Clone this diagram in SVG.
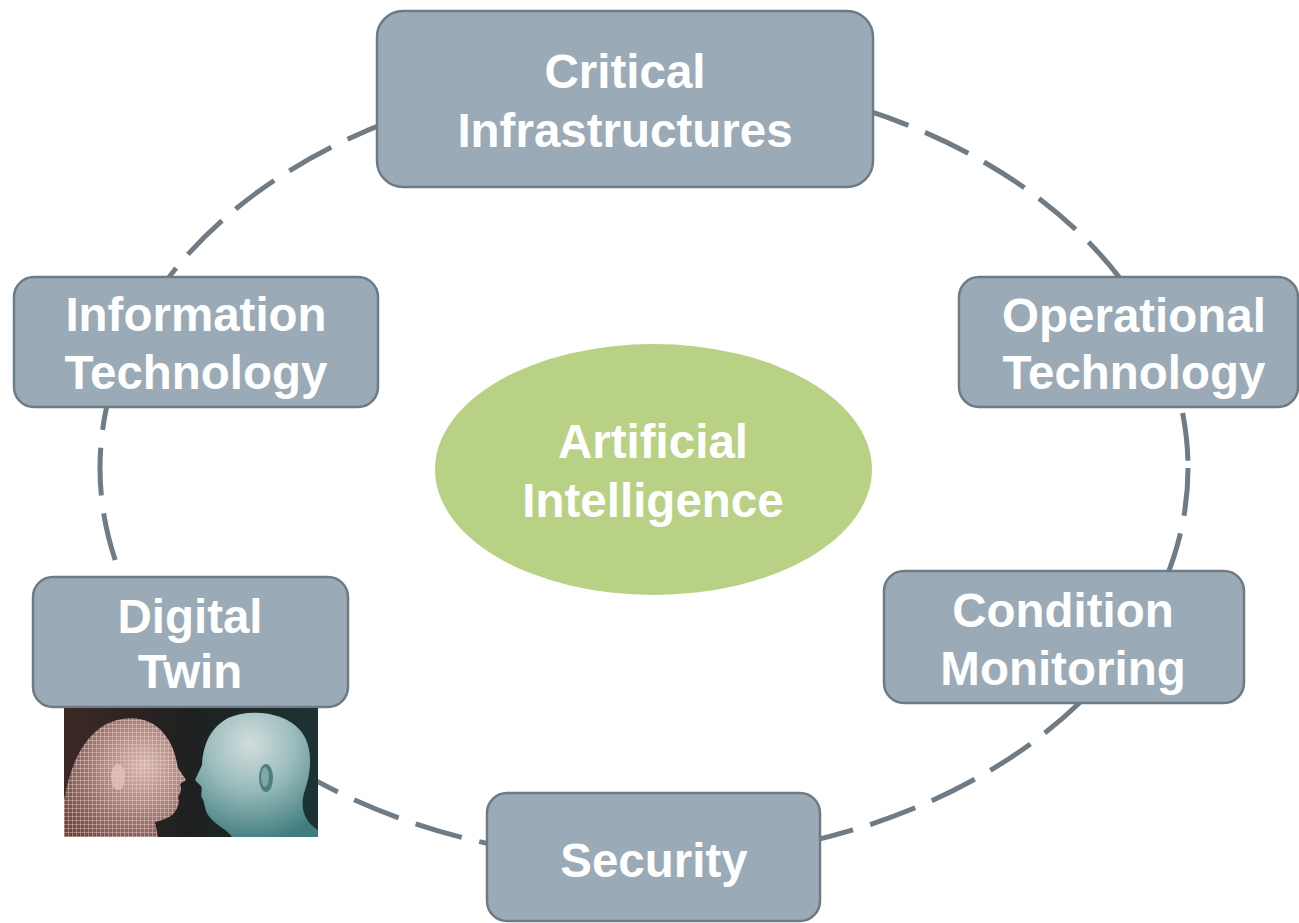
<svg xmlns="http://www.w3.org/2000/svg" width="1299" height="923" viewBox="0 0 1299 923">
  <style>
    .node rect { fill: #9aaab7; stroke: #6d7b87; stroke-width: 2.5; }
    .label { font-family: "Liberation Sans", Arial, sans-serif; font-weight: bold; font-size: 47.5px; fill: #ffffff; text-anchor: middle; }
    .ring { fill: none; stroke: #6f7b85; stroke-width: 5; stroke-dasharray: 48 18; }
  </style>
  <defs>
    <linearGradient id="twinBg" x1="0" y1="0" x2="1" y2="0">
      <stop offset="0" stop-color="#3d2926"/>
      <stop offset="0.5" stop-color="#1e2020"/>
      <stop offset="1" stop-color="#1d3434"/>
    </linearGradient>
    <radialGradient id="skinTeal" cx="0.45" cy="0.25" r="0.8">
      <stop offset="0" stop-color="#d2dedd"/>
      <stop offset="0.45" stop-color="#9bbcbc"/>
      <stop offset="1" stop-color="#3f7c7e"/>
    </radialGradient>
    <radialGradient id="skinWire" cx="0.65" cy="0.4" r="0.8">
      <stop offset="0" stop-color="#d9b7b0"/>
      <stop offset="1" stop-color="#6a4540"/>
    </radialGradient>
    <pattern id="mesh" width="4" height="4" patternUnits="userSpaceOnUse">
      <path d="M0,0 H4 M0,0 V4" stroke="#f6dcd6" stroke-width="0.9" fill="none"/>
    </pattern>
  </defs>

  <!-- dashed ring linking the topics -->
  <g id="connectors">
    <ellipse class="ring" cx="644" cy="468" rx="544" ry="392"/>
  </g>

  <g id="ai">
    <ellipse cx="653.5" cy="469.5" rx="218.5" ry="125.5" fill="#b9d185"/>
    <text class="label" x="653" y="458">Artificial</text>
    <text class="label" x="653" y="517">Intelligence</text>
  </g>

  <g id="critical-infrastructures" class="node">
    <rect x="377" y="11" width="496" height="176" rx="26"/>
    <text class="label" x="625" y="88">Critical</text>
    <text class="label" x="625" y="147">Infrastructures</text>
  </g>

  <g id="information-technology" class="node">
    <rect x="14" y="277" width="364" height="130" rx="20"/>
    <text class="label" x="196" y="331">Information</text>
    <text class="label" x="196" y="389">Technology</text>
  </g>

  <g id="operational-technology" class="node">
    <rect x="959" y="277" width="339" height="130" rx="20"/>
    <text class="label" x="1134" y="332">Operational</text>
    <text class="label" x="1134" y="389">Technology</text>
  </g>

  <g id="condition-monitoring" class="node">
    <rect x="884" y="571" width="360" height="132" rx="20"/>
    <text class="label" x="1063" y="627">Condition</text>
    <text class="label" x="1063" y="685">Monitoring</text>
  </g>

  <g id="security" class="node">
    <rect x="487" y="793" width="333" height="128" rx="20"/>
    <text class="label" x="654" y="877">Security</text>
  </g>

  <g id="digital-twin" class="node">
    <rect x="33" y="577" width="315" height="130" rx="20"/>
    <text class="label" x="190" y="633">Digital</text>
    <text class="label" x="190" y="688">Twin</text>
  </g>

  <!-- two facing heads: wireframe model and rendered human -->
  <g id="digital-twin-picture">
    <rect x="64" y="708" width="254" height="129" fill="url(#twinBg)"/>
    <path d="M64,837 L64,800 C70,770 78,745 100,728 C120,714 150,714 165,735 C175,748 176,760 178,768 L186,780 L180,784 C182,790 180,794 178,797 C180,802 178,806 176,810 C172,818 162,820 155,822 L158,837 Z" fill="url(#skinWire)"/>
    <path d="M64,837 L64,800 C70,770 78,745 100,728 C120,714 150,714 165,735 C175,748 176,760 178,768 L186,780 L180,784 C182,790 180,794 178,797 C180,802 178,806 176,810 C172,818 162,820 155,822 L158,837 Z" fill="url(#mesh)" opacity="0.85"/>
    <ellipse cx="118" cy="777" rx="7" ry="13" fill="#e6c2bb" opacity="0.8"/>
    <path d="M232,837 C228,830 215,825 208,815 C204,808 205,802 202,798 C200,794 203,790 201,786 L195,780 L202,765 C203,745 210,728 228,718 C250,708 285,712 300,730 C313,745 312,770 305,790 C300,805 302,820 318,830 L318,837 Z" fill="url(#skinTeal)"/>
    <ellipse cx="266" cy="778" rx="7" ry="14" fill="#4d7e80"/>
    <ellipse cx="265" cy="777" rx="4" ry="10" fill="#7fa8a8"/>
  </g>
</svg>
